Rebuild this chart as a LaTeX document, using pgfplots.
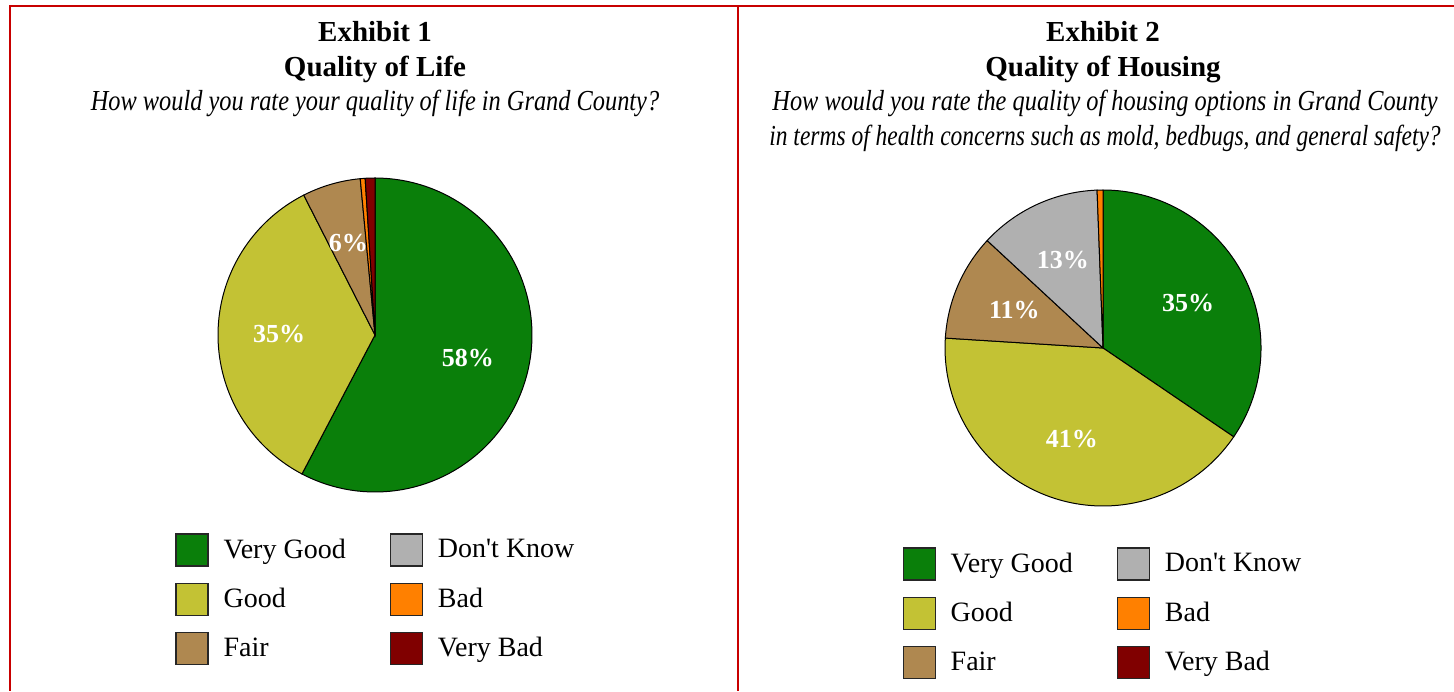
\documentclass[border=0pt]{standalone}
\usepackage{graphicx}
\usepackage{pgfplots}
\pgfplotsset{compat=1.18}
\usepackage{fontspec}
\setmainfont{Liberation Serif}

\definecolor{vgood}{HTML}{0A7F0A}
\definecolor{good}{HTML}{C3C234}
\definecolor{fair}{HTML}{AF8850}
\definecolor{dknow}{HTML}{B0B0B0}
\definecolor{bad}{HTML}{FF8000}
\definecolor{vbad}{HTML}{800000}
\definecolor{frame}{HTML}{C80000}

\newcommand\pctfont{\bfseries\fontsize{13}{15}\selectfont}
\newcommand\titlefont{\bfseries\fontsize{14.5}{17}\selectfont}
\newcommand\qfont{\itshape\fontsize{14.5}{17}\selectfont}
\newcommand\q[2][0.84]{\scalebox{#1}[1]{#2}}

% one wedge of a pie: colour, percent, label
\newcommand\cum{0}
\newcommand\pieslice[3]{%
  \pgfmathsetmacro\aS{90-3.6*\cum}%
  \pgfmathsetmacro\aE{90-3.6*(\cum+#2)}%
  \pgfmathsetmacro\aM{(\aS+\aE)/2}%
  \pgfmathsetmacro\lx{\cx+0.61*\rad*cos(\aM)}%
  \pgfmathsetmacro\ly{\cy+0.61*\rad*sin(\aM)}%
  \pgfmathsetmacro\newcum{\cum+#2}\global\let\cum\newcum
  \edef\doslice{\noexpand\addplot[forget plot, fill=#1, draw=black, line width=0.5pt,
    domain=\aE:\aS, samples=90, variable=\noexpand\t]
    ({\cx+\rad*cos(\noexpand\t)},{\cy+\rad*sin(\noexpand\t)}) -- (axis cs:\cx,\cy) -- cycle;}%
  \doslice
  \edef\dolabel{\noexpand\node[text=white, font=\noexpand\pctfont] at (axis cs:\lx,\ly) {\unexpanded{#3}};}%
  \dolabel
}

\pgfplotsset{
  sq/.style={legend image code/.code={\draw[##1,draw=black!85,line width=0.6pt] (0pt,-8pt) rectangle (16pt,8pt);}},
  panel/.style={hide axis, clip=false, x=0.5pt, y=0.5pt,
    xmin=0, xmax=1454, ymin=0, ymax=691, at={(0,0)}, anchor=south west,
    legend columns=2, legend cell align=left,
    legend style={draw=none, fill=none, inner sep=0pt, row sep=8pt,
      font=\fontsize{14}{17}\selectfont, nodes={inner sep=0pt},
      /tikz/every odd column/.style={column sep=7.5pt},
      /tikz/every even column/.style={column sep=22pt}}},
}

\begin{document}
\begin{tikzpicture}[x=0.5pt, y=0.5pt]
\useasboundingbox (0,0) rectangle (1454,691);

% frame
\draw[frame, line width=1pt] (9,685) -- (1454,685);
\draw[frame, line width=1pt] (10,685) -- (10,0);
\draw[frame, line width=1pt] (738,685) -- (738,0);

% titles
\node[font=\titlefont, anchor=base] at (375,649) {Exhibit 1};
\node[font=\titlefont, anchor=base] at (375,614) {Quality of Life};
\node[font=\qfont, anchor=base] at (375,580) {\q{How would you rate your quality of life in Grand County?}};
\node[font=\titlefont, anchor=base] at (1103,649) {Exhibit 2};
\node[font=\titlefont, anchor=base] at (1103,614) {Quality of Housing};
\node[font=\qfont, anchor=base] at (1105,580) {\q{How would you rate the quality of housing options in Grand County}};
\node[font=\qfont, anchor=base] at (1105,545) {\q[0.81]{in terms of health concerns such as mold, bedbugs, and general safety?}};

% Exhibit 1
\def\cx{375}\def\cy{356}\def\rad{157}\gdef\cum{0}
\begin{axis}[panel, legend style={at={(0.1204,0.2287)}, anchor=north west}]
\pieslice{vgood}{57.7}{58\%}
\pieslice{good}{34.8}{35\%}
\pieslice{fair}{6.0}{6\%}
\pieslice{bad}{0.5}{}
\pieslice{vbad}{1.0}{}
\addlegendimage{sq, fill=vgood}\addlegendentry{Very Good}
\addlegendimage{sq, fill=dknow}\addlegendentry{Don\textquotesingle t Know}
\addlegendimage{sq, fill=good}\addlegendentry{Good}
\addlegendimage{sq, fill=bad}\addlegendentry{Bad}
\addlegendimage{sq, fill=fair}\addlegendentry{Fair}
\addlegendimage{sq, fill=vbad}\addlegendentry{Very Bad}
\end{axis}

% Exhibit 2
\def\cx{1103}\def\cy{343}\def\rad{158}\gdef\cum{0}
\begin{axis}[panel, legend style={at={(0.6204,0.2084)}, anchor=north west}]
\pieslice{vgood}{34.5}{35\%}
\pieslice{good}{41.5}{41\%}
\pieslice{fair}{10.9}{11\%}
\pieslice{dknow}{12.5}{13\%}
\pieslice{bad}{0.6}{}
\addlegendimage{sq, fill=vgood}\addlegendentry{Very Good}
\addlegendimage{sq, fill=dknow}\addlegendentry{Don\textquotesingle t Know}
\addlegendimage{sq, fill=good}\addlegendentry{Good}
\addlegendimage{sq, fill=bad}\addlegendentry{Bad}
\addlegendimage{sq, fill=fair}\addlegendentry{Fair}
\addlegendimage{sq, fill=vbad}\addlegendentry{Very Bad}
\end{axis}
\end{tikzpicture}
\end{document}
